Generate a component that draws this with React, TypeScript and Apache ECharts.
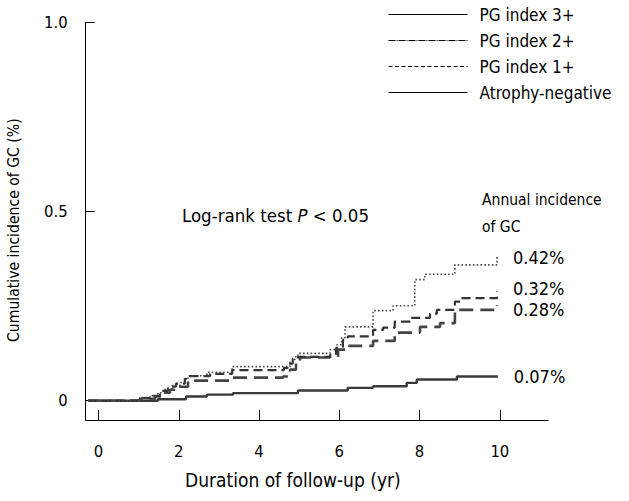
import React, { useEffect, useRef } from "react";
import * as echarts from "echarts";

// ---- data ----
const seriesNames = ["PG index 3+", "PG index 2+", "PG index 1+", "Atrophy-negative"];
const annualIncidence = ["0.42%", "0.32%", "0.28%", "0.07%"];

const xTickValues = [0, 2, 4, 6, 8, 10];
const xTickLabels = ["0", "2", "4", "6", "8", "10"];
const yTickValues = [0, 0.5, 1];
const yTickLabels = ["0", "0.5", "1.0"];

// PG index 3+ (dotted, top curve)
const pg3Years = [-0.26, 1.03, 1.28, 1.48, 1.66, 1.83, 2.03, 2.23, 2.7, 3.33, 4.77, 4.89, 4.97, 5.77, 5.94, 6.06, 6.14, 6.84, 7.34, 7.88, 8.13, 8.88, 9.93];
const pg3Values = [0, 0.008, 0.013, 0.021, 0.032, 0.04, 0.048, 0.066, 0.075, 0.09, 0.103, 0.116, 0.125, 0.135, 0.148, 0.166, 0.195, 0.238, 0.251, 0.32, 0.334, 0.359, 0.383];

// PG index 2+ (medium dashes)
const pg2Years = [-0.26, 1.03, 1.33, 1.53, 1.73, 1.93, 2.15, 2.28, 2.78, 3.33, 4.62, 4.72, 4.84, 4.97, 5.77, 5.92, 6.09, 6.21, 6.84, 7.09, 7.38, 7.76, 8.26, 8.43, 8.88, 9.01, 9.93];
const pg2Values = [0, 0.007, 0.013, 0.026, 0.037, 0.045, 0.058, 0.065, 0.071, 0.081, 0.087, 0.098, 0.111, 0.116, 0.121, 0.14, 0.161, 0.17, 0.187, 0.193, 0.209, 0.219, 0.23, 0.24, 0.262, 0.271, 0.289];

// PG index 1+ (long dashes)
const pg1Years = [-0.26, 1.03, 1.41, 1.58, 1.78, 1.98, 2.23, 3.33, 4.6, 4.77, 4.92, 5.02, 5.77, 5.97, 6.21, 6.84, 7.38, 8.01, 8.51, 8.88, 9.93];
const pg1Values = [0, 0.005, 0.011, 0.021, 0.029, 0.037, 0.053, 0.061, 0.064, 0.082, 0.103, 0.114, 0.116, 0.135, 0.145, 0.158, 0.18, 0.195, 0.205, 0.24, 0.253];

// Atrophy-negative (solid, bottom)
const negYears = [-0.26, 1.48, 2.18, 2.7, 3.35, 4.97, 6.21, 6.84, 7.68, 7.93, 8.93, 9.95];
const negValues = [0, 0.004, 0.011, 0.016, 0.02, 0.027, 0.034, 0.038, 0.047, 0.056, 0.064, 0.064];

const zip = (xs: number[], ys: number[]) => xs.map((x, i) => [x, ys[i]]);

const FONT = "'DejaVu Sans Condensed', 'DejaVu Sans', sans-serif";

export default function App() {
  const ref = useRef<HTMLDivElement>(null);

  useEffect(() => {
    if (!ref.current) return;
    const chart = echarts.init(ref.current, undefined, { renderer: "svg" });

    const curveStyles = [
      { color: "#4a4a4a", width: 1.6, type: [1.6, 2.2] },
      { color: "#333333", width: 2.2, type: [9, 5] },
      { color: "#444444", width: 2.6, type: [14, 7] },
      { color: "#3a3a3a", width: 2.4, type: "solid" },
    ];
    const legendStyles = [
      { color: "#000", width: 1, type: "solid" },
      { color: "#000", width: 1, type: [7, 1, 1, 1] },
      { color: "#000", width: 1, type: [4, 2.5] },
      { color: "#000", width: 1, type: "solid" },
    ];
    const datas = [
      zip(pg3Years, pg3Values),
      zip(pg2Years, pg2Values),
      zip(pg1Years, pg1Values),
      zip(negYears, negValues),
    ];
    const labelOffsets = [[0, 2], [0, -3], [0, 5], [0, 0]];

    chart.setOption({
      animation: false,
      backgroundColor: "#fff",
      textStyle: { fontFamily: FONT },
      grid: { left: 85.7, right: 81, top: 22.3, bottom: 81, containLabel: false, outerBoundsMode: "none" },
      xAxis: {
        type: "value",
        min: -0.32,
        max: 11.2,
        name: "Duration of follow-up (yr)",
        nameLocation: "middle",
        nameGap: 50,
        nameTextStyle: { fontSize: 19, color: "#000", fontFamily: FONT, padding: [0, 48, 0, 0] },
        axisLine: { show: true, onZero: false, lineStyle: { color: "#000", width: 1 } },
        axisTick: { show: true, inside: true, length: 10, customValues: xTickValues, lineStyle: { color: "#000" } },
        axisLabel: {
          customValues: xTickValues,
          margin: 23,
          fontSize: 16.5,
          color: "#000",
          fontFamily: FONT,
          formatter: (v: number) => xTickLabels[xTickValues.indexOf(v)] ?? "",
        },
        splitLine: { show: false },
      },
      yAxis: {
        type: "value",
        min: -0.051,
        max: 1,
        name: "Cumulative incidence of GC (%)",
        nameLocation: "middle",
        nameGap: 64,
        nameTextStyle: { fontSize: 15.6, color: "#000", fontFamily: FONT, padding: [0, 18, 0, 0] },
        axisLine: { show: true, onZero: false, lineStyle: { color: "#000", width: 1 } },
        axisTick: { show: true, inside: true, length: 9, customValues: yTickValues, lineStyle: { color: "#000" } },
        axisLabel: {
          customValues: yTickValues,
          margin: 18,
          fontSize: 16.5,
          color: "#000",
          fontFamily: FONT,
          formatter: (v: number) => yTickLabels[yTickValues.indexOf(v)] ?? "",
        },
        splitLine: { show: false },
      },
      legend: {
        show: true,
        orient: "vertical",
        left: 388,
        top: 6,
        padding: 0,
        itemWidth: 79,
        itemHeight: 14,
        itemGap: 9,
        textStyle: { fontSize: 17, color: "#000", fontFamily: FONT, padding: [0, 0, 0, 7] },
        data: seriesNames.map((n, i) => ({ name: n, lineStyle: legendStyles[i], itemStyle: { opacity: 0 } })),
      },
      graphic: [
        {
          type: "text",
          left: 182,
          top: 206,
          style: {
            text: "Log-rank test {i|P} < 0.05",
            fontSize: 18.5,
            fontFamily: FONT,
            fill: "#000",
            rich: { i: { fontStyle: "italic", fontSize: 18.5, fontFamily: FONT, fill: "#000" } },
          },
        },
        {
          type: "text",
          left: 482,
          top: 186,
          style: {
            text: "Annual incidence\nof GC",
            fontSize: 15.5,
            lineHeight: 27,
            fontFamily: FONT,
            fill: "#000",
          },
        },
      ],
      series: seriesNames.map((n, i) => ({
        name: n,
        type: "line",
        step: "end",
        symbol: "none",
        data: datas[i],
        lineStyle: curveStyles[i],
        itemStyle: { color: curveStyles[i].color },
        z: 4 - i,
        endLabel: {
          show: true,
          formatter: () => annualIncidence[i],
          distance: 16,
          offset: labelOffsets[i],
          fontSize: 18,
          color: "#000",
          fontFamily: FONT,
        },
      })),
    });

    return () => chart.dispose();
  }, []);

  return (
    <div
      ref={ref}
      style={{ position: "fixed", left: 0, top: 0, width: 629, height: 501, background: "#fff" }}
    />
  );
}
